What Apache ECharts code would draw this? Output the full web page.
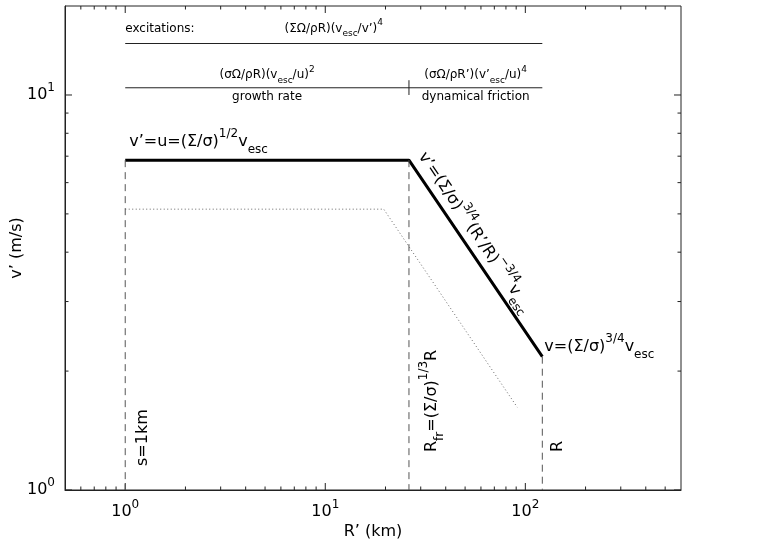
<!DOCTYPE html>
<html>
<head>
<meta charset="utf-8">
<script src="https://cdn.jsdelivr.net/npm/echarts@6/dist/echarts.min.js"></script>
<style>html,body{margin:0;padding:0;background:#fff;}</style>
</head>
<body>
<div id="main" style="width:761px;height:546px;"></div>
<script type="text/javascript">
// values: R' in km, v' in m/s
var thickR = [1, 26.2, 121.6];
var thickV = [6.84, 6.84, 2.175];
var dotR = [1, 19.6, 91.1];
var dotV = [5.14, 5.14, 1.62];
// dashed guides drop from the curve down to the axis
var guideR = [1, 26.2, 121.6];
var guideTop = [6.84, 6.84, 2.175];
var yMin = 1;
// header rules and the little divider between them
var ruleR = [1, 121.6];
var ruleV = [13.5, 10.43];
var splitR = 26.2;
var splitV = [10.0, 10.9];
// ticks and tick labels (exponents of 10)
var xMajor = [1, 10, 100];
var xMajorExp = ['0', '1', '2'];
var xMinor = [0.6, 0.7, 0.8, 0.9, 2, 3, 4, 5, 6, 7, 8, 9, 20, 30, 40, 50, 60, 70, 80, 90, 200, 300, 400, 500];
var yMajor = [1, 10];
var yMajorExp = ['0', '1'];
var yMinor = [2, 3, 4, 5, 6, 7, 8, 9];

var FONT = 'DejaVu Sans';
var chart = echarts.init(document.getElementById('main'));

function zip(a, b) {
    return a.map(function (v, i) { return [v, b[i]]; });
}
function expLabel(list, exps) {
    return function (v) {
        for (var i = 0; i < list.length; i++) {
            if (Math.abs(Math.log10(v) - Math.log10(list[i])) < 1e-6) return '{b|10}{s|' + exps[i] + '}';
        }
        return '';
    };
}
var tickRich = {
    b: {fontSize: 16, fontFamily: FONT, lineHeight: 26, verticalAlign: 'middle', color: '#000'},
    s: {fontSize: 12, fontFamily: FONT, lineHeight: 8, verticalAlign: 'top', color: '#000'}
};
var edge = {lineWidth: 1, stroke: '#222'};

function plainLine(data, extra) {
    var ls = {color: '#000', width: 1};
    for (var k in extra) ls[k] = extra[k];
    return {type: 'line', data: data, symbol: 'none', silent: true, lineStyle: ls, z: 3};
}

var series = [];
series.push(plainLine(zip(thickR, thickV), {width: 3}));
series.push(plainLine(zip(dotR, dotV), {color: '#666', type: [1, 2.5]}));
guideR.forEach(function (r, i) {
    series.push(plainLine([[r, guideTop[i]], [r, yMin]], {color: '#555', type: [7, 5]}));
});
ruleV.forEach(function (v) {
    series.push(plainLine([[ruleR[0], v], [ruleR[1], v]], {color: '#222'}));
});
series.push(plainLine([[splitR, splitV[0]], [splitR, splitV[1]]], {color: '#222'}));

// inward ticks on all four sides
var xTicks = xMajor.map(function (v) { return [v, 1, 7]; })
    .concat(xMinor.map(function (v) { return [v, 1, 3.5]; }));
var yTicks = yMajor.map(function (v) { return [1, v, 7]; })
    .concat(yMinor.map(function (v) { return [1, v, 3.5]; }));
series.push({
    type: 'custom', data: xTicks, silent: true, clip: false,
    renderItem: function (params, api) {
        var cs = params.coordSys, len = api.value(2);
        var x = api.coord([api.value(0), 1])[0];
        var b = cs.y + cs.height;
        return {type: 'group', children: [
            {type: 'line', shape: {x1: x, y1: b, x2: x, y2: b - len}, style: edge},
            {type: 'line', shape: {x1: x, y1: cs.y, x2: x, y2: cs.y + len}, style: edge}
        ]};
    }
});
series.push({
    type: 'custom', data: yTicks, silent: true, clip: false,
    renderItem: function (params, api) {
        var cs = params.coordSys, len = api.value(2);
        var y = api.coord([1, api.value(1)])[1];
        var r = cs.x + cs.width;
        return {type: 'group', children: [
            {type: 'line', shape: {x1: cs.x, y1: y, x2: cs.x + len, y2: y}, style: edge},
            {type: 'line', shape: {x1: r, y1: y, x2: r - len, y2: y}, style: edge}
        ]};
    }
});

chart.setOption({
    animation: false,
    grid: {left: 65, right: 80, top: 6, bottom: 56, containLabel: false, outerBoundsMode: 'none',
        show: true, borderColor: '#222', borderWidth: 1},
    xAxis: {
        type: 'log', logBase: 10, min: 0.5, max: 600,
        name: 'R’ (km)', nameLocation: 'middle', nameGap: 34, nameMoveOverlap: false,
        nameTextStyle: {fontSize: 16, fontFamily: FONT, color: '#000'},
        axisLine: {lineStyle: {color: '#222'}},
        axisTick: {show: false}, splitLine: {show: false},
        axisLabel: {interval: 0, margin: 9, formatter: expLabel(xMajor, xMajorExp), rich: tickRich}
    },
    yAxis: {
        type: 'log', logBase: 10, min: yMin, max: 16.8,
        name: 'v’ (m/s)', nameLocation: 'middle', nameGap: 40, nameMoveOverlap: false,
        nameTextStyle: {fontSize: 16, fontFamily: FONT, color: '#000'},
        axisLine: {lineStyle: {color: '#222'}},
        axisTick: {show: false}, splitLine: {show: false},
        axisLabel: {interval: 0, margin: 10, formatter: expLabel(yMajor, yMajorExp), rich: tickRich}
    },
    series: series
});

// annotations, anchored to data points through the axes
function P(r, v) { return chart.convertToPixel({xAxisIndex: 0, yAxisIndex: 0}, [r, v]); }
var big = {
    m: {fontSize: 16, fontFamily: FONT, lineHeight: 28, verticalAlign: 'middle', fill: '#000'},
    p: {fontSize: 12, fontFamily: FONT, lineHeight: 14, verticalAlign: 'top', fill: '#000'},
    b: {fontSize: 12, fontFamily: FONT, lineHeight: 12, verticalAlign: 'bottom', fill: '#000'}
};
var small = {
    m: {fontSize: 12, fontFamily: FONT, lineHeight: 20, verticalAlign: 'middle', fill: '#000'},
    p: {fontSize: 9, fontFamily: FONT, lineHeight: 8, verticalAlign: 'top', fill: '#000'},
    b: {fontSize: 9, fontFamily: FONT, lineHeight: 10, verticalAlign: 'bottom', fill: '#000'}
};
function txt(x, y, text, rich, align, rot) {
    return {
        type: 'text', x: x, y: y, rotation: rot || 0, silent: true, z: 10,
        style: {text: text, rich: rich, align: align || 'left', verticalAlign: 'middle',
            fill: '#000', fontFamily: FONT, fontSize: 16}
    };
}

var g = [];
var s0 = P(thickR[0], thickV[0]);
var p1 = P(thickR[1], thickV[1]);
var p2 = P(thickR[2], thickV[2]);
g.push(txt(s0[0] + 4, s0[1] - 18, '{m|v’=u=(Σ/σ)}{p|1/2}{m|v}{b|esc}', big));
var a = Math.atan2(p2[1] - p1[1], p2[0] - p1[0]);
var ux = Math.cos(a), uy = Math.sin(a);
var nx = Math.sin(a), ny = -Math.cos(a);
var mx = (p1[0] + p2[0]) / 2, my = (p1[1] + p2[1]) / 2;
g.push(txt(mx - 22 * ux + 14 * nx, my - 22 * uy + 14 * ny,
    '{m|v’=(Σ/σ)}{p|3/4}{m|(R’/R)}{p|−3/4}{m|v}{b|esc}', big, 'center', -a));
g.push(txt(p2[0] + 2, p2[1] - 10, '{m|v=(Σ/σ)}{p|3/4}{m|v}{b|esc}', big));

var b0 = P(guideR[0], yMin), b1 = P(guideR[1], yMin), b2 = P(guideR[2], yMin);
g.push(txt(b0[0] + 18, b0[1] - 24, '{m|s=1km}', big, 'left', Math.PI / 2));
g.push(txt(b1[0] + 23, b1[1] - 38, '{m|R}{b|fr}{m|=(Σ/σ)}{p|1/3}{m|R}', big, 'left', Math.PI / 2));
g.push(txt(b2[0] + 16, b2[1] - 38, '{m|R}', big, 'left', Math.PI / 2));

var h0 = P(ruleR[0], ruleV[0]), h1 = P(ruleR[1], ruleV[0]);
g.push(txt(h0[0], h0[1] - 15, '{m|excitations:}', small));
g.push(txt((h0[0] + h1[0]) / 2, h0[1] - 15, '{m|(ΣΩ/ρR)(v}{b|esc}{m|/v’)}{p|4}', small, 'center'));
var c0 = P(ruleR[0], ruleV[1]), c1 = P(splitR, ruleV[1]), c2 = P(ruleR[1], ruleV[1]);
var lm = (c0[0] + c1[0]) / 2, rm = (c1[0] + c2[0]) / 2;
g.push(txt(lm, c0[1] - 13, '{m|(σΩ/ρR)(v}{b|esc}{m|/u)}{p|2}', small, 'center'));
g.push(txt(rm, c0[1] - 13, '{m|(σΩ/ρR’)(v’}{b|esc}{m|/u)}{p|4}', small, 'center'));
g.push(txt(lm, c0[1] + 9, '{m|growth rate}', small, 'center'));
g.push(txt(rm, c0[1] + 9, '{m|dynamical friction}', small, 'center'));

chart.setOption({graphic: g});
</script>
</body>
</html>
